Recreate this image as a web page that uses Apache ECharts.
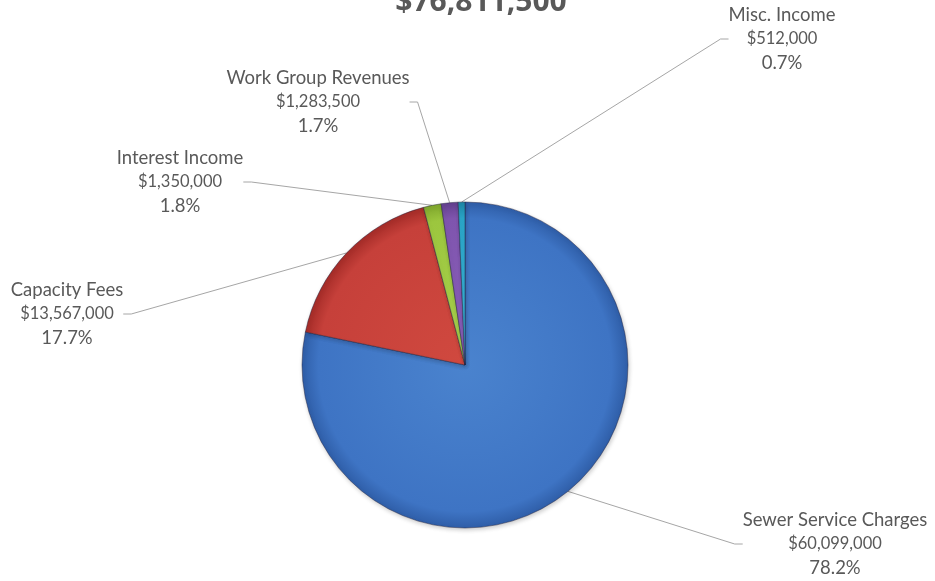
<!DOCTYPE html>
<html>
<head>
<meta charset="utf-8">
<script src="https://cdn.jsdelivr.net/npm/echarts@6/dist/echarts.min.js"></script>
<style>
  html, body { margin: 0; padding: 0; background: #fff; }
  #main { width: 935px; height: 581px; }
</style>
</head>
<body>
<div id="main"></div>
<script>
/* revenue pie */
var categories = ['Sewer Service Charges', 'Capacity Fees', 'Interest Income', 'Work Group Revenues', 'Misc. Income'];
var amounts = [60099000, 13567000, 1350000, 1283500, 512000];
var totalText = '$76,811,500';

// slice colours: light, base, rim
var sliceColors = [
    ['#4a83ce', '#3e74c4', '#2f5ea8'],
    ['#d0493f', '#c6403a', '#a52c28'],
    ['#a8d24e', '#9cc63e', '#7fa62c'],
    ['#8a5fba', '#7f55ae', '#63408e'],
    ['#3ab5d9', '#2aa5c8', '#1d86a6']
];
// label anchors (center x, top y)
var labelPos = [
    [835, 508],
    [67, 278],
    [180, 146],
    [318, 66],
    [782, 3]
];

var total = amounts.reduce(function (a, b) { return a + b; }, 0);

function money(v) {
    return '$' + v.toString().replace(/\B(?=(\d{3})+(?!\d))/g, ',');
}

var myChart = echarts.init(document.getElementById('main'));
var cx = 465, cy = 365, R = 163;

var data = categories.map(function (name, i) {
    return {
        name: name,
        value: amounts[i],
        itemStyle: {
            color: {
                type: 'radial', x: cx, y: cy, r: R, global: true,
                colorStops: [
                    { offset: 0, color: sliceColors[i][0] },
                    { offset: 0.9, color: sliceColors[i][1] },
                    { offset: 1, color: sliceColors[i][2] }
                ]
            }
        }
    };
});

var option = {
    backgroundColor: '#ffffff',
    title: {
        text: totalText,
        left: 476,
        top: -18,
        textAlign: 'center',
        textStyle: {
            fontFamily: 'Open Sans',
            fontWeight: 'bold',
            fontSize: 30,
            color: '#595959'
        }
    },
    series: [{
        type: 'pie',
        center: [cx, cy],
        radius: [0, R],
        startAngle: 90,
        clockwise: true,
        animation: false,
        itemStyle: {
            borderColor: 'rgba(30,30,60,0.45)',
            borderWidth: 1,
            shadowBlur: 4,
            shadowOffsetX: 1,
            shadowOffsetY: 2,
            shadowColor: 'rgba(0,0,0,0.2)'
        },
        label: {
            show: true,
            color: '#595959',
            formatter: function (p) {
                var pct = (p.value / total * 100).toFixed(1);
                return '{n|' + p.name + '}\n{v|' + money(p.value) + '}\n{p|' + pct + '%}';
            },
            rich: {
                n: { fontFamily: 'Lato', fontSize: 18.5, color: '#595959', lineHeight: 24 },
                v: { fontFamily: 'Lato', fontSize: 16.5, color: '#595959', lineHeight: 24 },
                p: { fontFamily: 'Lato', fontSize: 18.5, color: '#595959', lineHeight: 24 }
            }
        },
        labelLine: {
            show: true,
            length: 8,
            length2: 8,
            smooth: false,
            lineStyle: { color: '#a6a6a6', width: 1 }
        },
        labelLayout: function (params) {
            var p = labelPos[params.dataIndex];
            return { x: p[0], y: p[1], align: 'center', verticalAlign: 'top' };
        },
        emphasis: { disabled: true },
        data: data
    }]
};
myChart.setOption(option);
</script>
</body>
</html>
